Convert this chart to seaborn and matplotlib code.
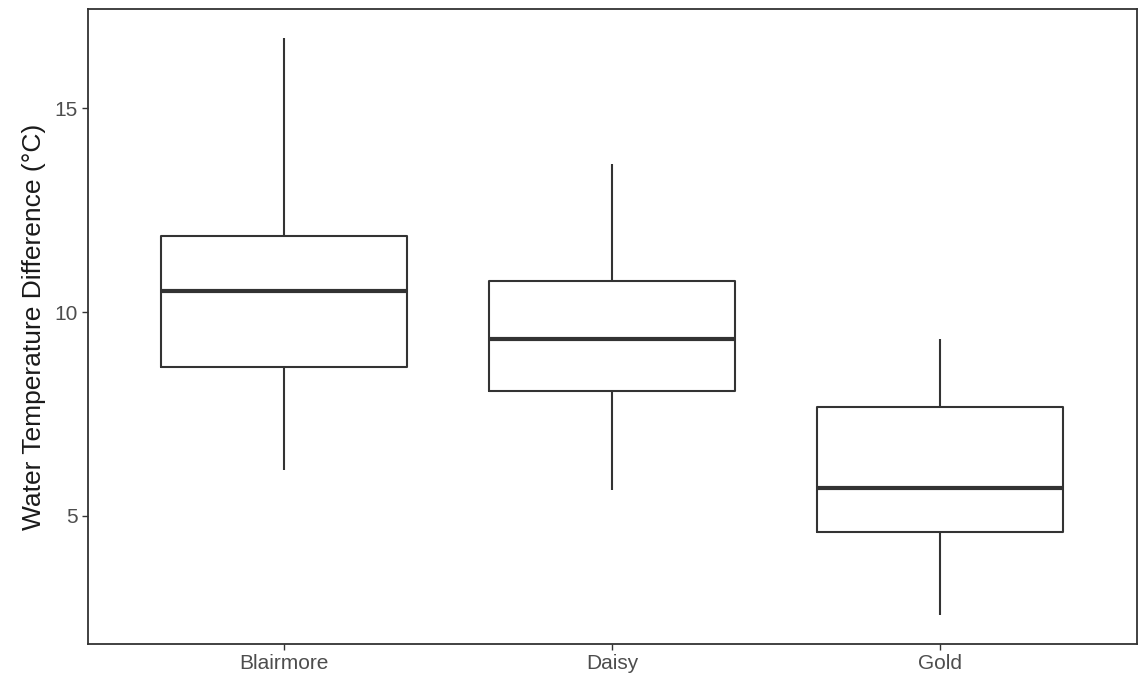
import numpy as np
import pandas as pd
import matplotlib
matplotlib.use("Agg")
import matplotlib.pyplot as plt
import seaborn as sns

# Five-number summaries (min, Q1, median, Q3, max)
sites = ["Blairmore", "Daisy", "Gold"]
blairmore = [6.13, 8.65, 10.52, 11.87, 16.73]
daisy = [5.64, 8.07, 9.33, 10.76, 13.63]
gold = [2.56, 4.61, 5.68, 7.66, 9.33]
yticks = [5, 10, 15]
ylabel = "Water Temperature Difference (°C)"

df = pd.DataFrame({
    "site": np.repeat(sites, 5),
    "diff": blairmore + daisy + gold,
})

sns.set_theme(style="white")
plt.rcParams["font.family"] = ["Liberation Sans", "DejaVu Sans"]

fig = plt.figure(figsize=(11.38, 6.81), dpi=100)
ax = fig.add_axes([87.5 / 1138, 1 - 644 / 681, (1136.5 - 87.5) / 1138, (644 - 9) / 681])

dark = "#333333"
sns.boxplot(
    data=df, x="site", y="diff", order=sites, ax=ax,
    width=0.75, whis=(0, 100), fill=False, color=dark,
    linewidth=1.5,
    medianprops=dict(color=dark, linewidth=3),
    boxprops=dict(color=dark, linewidth=1.5),
    whiskerprops=dict(color=dark, linewidth=1.5),
    capprops=dict(linewidth=0),
    showcaps=False,
)

vals = np.array(blairmore + daisy + gold)
lo, hi = vals.min(), vals.max()
pad = 0.05 * (hi - lo)
ax.set_ylim(lo - pad, hi + pad)
ax.set_xlim(-0.6, len(sites) - 0.4)
ax.set_yticks(yticks)
ax.set_yticklabels([str(t) for t in yticks])

ax.set_xlabel("")
ax.set_ylabel(ylabel, fontsize=19, color="#1a1a1a", labelpad=6)
ax.tick_params(axis="both", which="major", length=4, width=1, color=dark,
               labelsize=15, labelcolor="#4D4D4D", pad=3,
               left=True, bottom=True)
for s in ax.spines.values():
    s.set_visible(True)
    s.set_color(dark)
    s.set_linewidth(1.3)
ax.set_facecolor("white")
fig.patch.set_facecolor("white")

fig.savefig("out.png", dpi=100, facecolor="white")
